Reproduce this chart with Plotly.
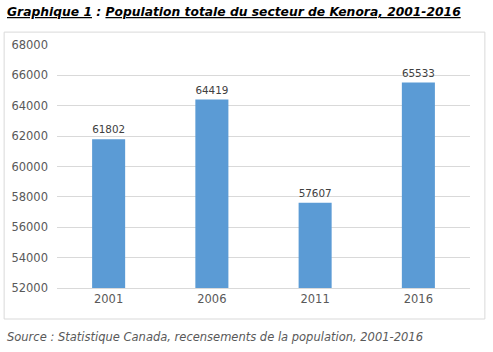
import plotly.graph_objects as go

years = ["2001", "2006", "2011", "2016"]
population = [61802, 64419, 57607, 65533]
y_ticks = [52000, 54000, 56000, 58000, 60000, 62000, 64000, 66000, 68000]

title_text = "<b><i><u>Graphique 1</u> : <u>Population totale du secteur de Kenora, 2001-2016</u></i></b>"
source_text = "<i>Source : Statistique Canada, recensements de la population, 2001-2016</i>"

FONT = "DejaVu Sans"

fig = go.Figure()
fig.add_trace(go.Bar(
    x=years, y=population, width=0.32,
    marker=dict(color="#5B9BD5", line=dict(width=0)),
    text=[str(v) for v in population], textposition="outside",
    textfont=dict(family=FONT, size=11.5, color="#404040"),
    cliponaxis=False,
))

fig.update_layout(
    width=493, height=352,
    margin=dict(l=57, r=23, t=45, b=64),
    paper_bgcolor="white", plot_bgcolor="white",
    showlegend=False,
    font=dict(family=FONT, size=11, color="#595959"),
    xaxis=dict(type="category", showgrid=False, showline=True, linecolor="#D9D9D9",
               linewidth=1, ticks="", tickfont=dict(size=11.5, color="#595959")),
    yaxis=dict(range=[52000, 68000], tickvals=y_ticks, ticktext=[str(v) for v in y_ticks],
               showgrid=True, gridcolor="#D9D9D9", gridwidth=1, zeroline=False,
               showline=False, ticks="", ticklabelstandoff=8,
               tickfont=dict(size=11.5, color="#595959")),
    annotations=[
        dict(text=title_text, xref="paper", yref="paper", x=-0.126, y=1.136,
             xanchor="left", yanchor="middle", showarrow=False,
             font=dict(family=FONT, size=12.3, color="#000000")),
        dict(text=source_text, xref="paper", yref="paper", x=-0.126, y=-0.2,
             xanchor="left", yanchor="middle", showarrow=False,
             font=dict(family=FONT, size=11.5, color="#595959")),
    ],
    shapes=[dict(type="rect", xref="paper", yref="paper", x0=-0.128, x1=1.036,
                 y0=-0.1276, y1=1.053, line=dict(color="#D9D9D9", width=1),
                 fillcolor="rgba(0,0,0,0)", layer="below")],
)

fig.write_html("out.html")
